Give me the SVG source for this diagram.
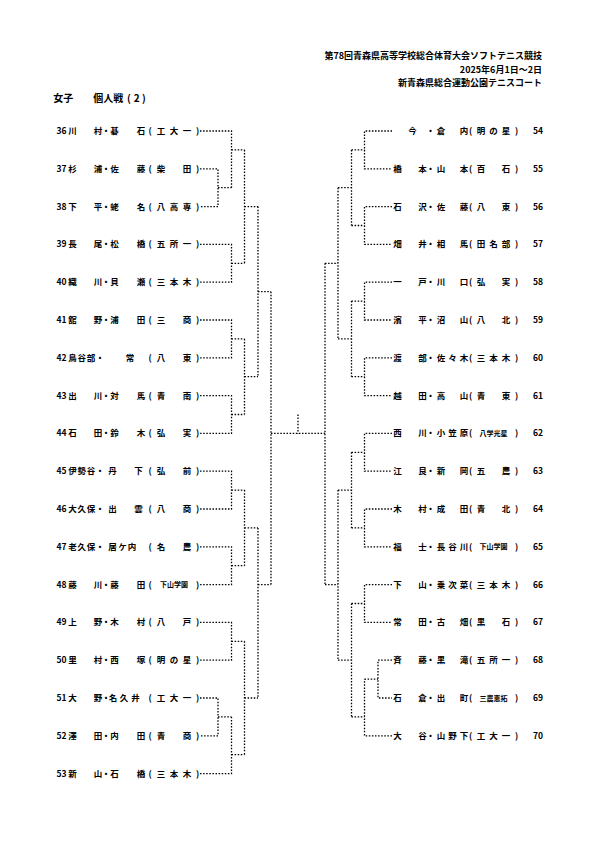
<svg xmlns="http://www.w3.org/2000/svg" width="595" height="842" viewBox="0 0 595 842">
<style>
text{font-family:"Noto Sans CJK JP","Noto Sans CJK SC",sans-serif;fill:#000}
.h{font-size:9px;font-weight:bold;text-anchor:end}
.ti{font-size:10px;font-weight:bold}
.tc{font-size:10px;font-weight:bold;text-anchor:middle}
.n{font-size:8.5px;font-weight:bold}
.c{font-size:8.5px;font-weight:bold;text-anchor:middle}
.s{font-size:7px}
.ln{fill:none;stroke:#000;stroke-width:1.3;stroke-dasharray:1.5 1.6}
</style>
<rect width="595" height="842" fill="#fff"/>
<g id="header">
<text class="h" x="542" y="58.5">第78回青森県高等学校総合体育大会ソフトテニス競技</text>
<text class="h" x="542" y="72.5">2025年6月1日～2日</text>
<text class="h" x="542" y="86">新青森県総合運動公園テニスコート</text>
</g>
<g id="title">
<text class="ti" x="53.3" y="102">女子</text>
<text class="ti" x="93.3" y="102">個人戦</text>
<text class="tc" x="129 136.7 144" y="102">(2)</text>
</g>
<g id="p36"><text class="n" x="56.5" y="134">36</text><text class="c" x="72.5 98 106 114.5 141 150 161 174 187 197.5" y="134">川村・碁石(工大一)</text></g>
<g id="p37"><text class="n" x="56.5" y="171.8">37</text><text class="c" x="72.5 98 106 114.5 141 150 161 187 197.5" y="171.8">杉浦・佐藤(柴田)</text></g>
<g id="p38"><text class="n" x="56.5" y="209.6">38</text><text class="c" x="72.5 98 106 114.5 141 150 161 174 187 197.5" y="209.6">下平・蛯名(八高専)</text></g>
<g id="p39"><text class="n" x="56.5" y="247.4">39</text><text class="c" x="72.5 98 106 114.5 141 150 161 174 187 197.5" y="247.4">長尾・松橋(五所一)</text></g>
<g id="p40"><text class="n" x="56.5" y="285.2">40</text><text class="c" x="72.5 98 106 114.5 141 150 161 174 187 197.5" y="285.2">織川・貝瀬(三本木)</text></g>
<g id="p41"><text class="n" x="56.5" y="323">41</text><text class="c" x="72.5 98 106 114.5 141 150 161 187 197.5" y="323">舘野・浦田(三商)</text></g>
<g id="p42"><text class="n" x="56.5" y="360.8">42</text><text class="c" x="72.5 81.8 91 100 130 150 161 187 197.5" y="360.8">鳥谷部・常(八東)</text></g>
<g id="p43"><text class="n" x="56.5" y="398.6">43</text><text class="c" x="72.5 98 106 114.5 141 150 161 187 197.5" y="398.6">出川・対馬(青南)</text></g>
<g id="p44"><text class="n" x="56.5" y="436.4">44</text><text class="c" x="72.5 98 106 114.5 141 150 161 187 197.5" y="436.4">石田・鈴木(弘実)</text></g>
<g id="p45"><text class="n" x="56.5" y="474.2">45</text><text class="c" x="72.5 81.8 91 100 112.5 138.5 150 161 187 197.5" y="474.2">伊勢谷・丹下(弘前)</text></g>
<g id="p46"><text class="n" x="56.5" y="512">46</text><text class="c" x="72.5 81.8 91 100 112.5 138.5 150 161 187 197.5" y="512">大久保・出雲(八商)</text></g>
<g id="p47"><text class="n" x="56.5" y="549.8">47</text><text class="c" x="72.5 81.8 91 100 112.5 122.5 132 150 161 187 197.5" y="549.8">老久保・居ケ内(名農)</text></g>
<g id="p48"><text class="n" x="56.5" y="587.6">48</text><text class="c" x="72.5 98 106 114.5 141 150" y="587.6">藤川・藤田(<tspan class="s" x="174" y="587.2">下山学園</tspan><tspan x="197.5" y="587.6">)</tspan></text></g>
<g id="p49"><text class="n" x="56.5" y="625.4">49</text><text class="c" x="72.5 98 106 114.5 141 150 161 187 197.5" y="625.4">上野・木村(八戸)</text></g>
<g id="p50"><text class="n" x="56.5" y="663.2">50</text><text class="c" x="72.5 98 106 114.5 141 150 161 174 187 197.5" y="663.2">里村・西塚(明の星)</text></g>
<g id="p51"><text class="n" x="56.5" y="701">51</text><text class="c" x="72.5 98 106 113 124 135.5 150 161 174 187 197.5" y="701">大野・名久井(工大一)</text></g>
<g id="p52"><text class="n" x="56.5" y="738.8">52</text><text class="c" x="72.5 98 106 114.5 141 150 161 187 197.5" y="738.8">澤田・内田(青商)</text></g>
<g id="p53"><text class="n" x="56.5" y="776.6">53</text><text class="c" x="72.5 98 106 114.5 141 150 161 174 187 197.5" y="776.6">新山・石橋(三本木)</text></g>
<g id="p54"><text class="c" x="412.5 430.5 441 464 470.5 481 493.5 506 516.5" y="134">今・倉内(明の星)</text><text class="n" x="533" y="134">54</text></g>
<g id="p55"><text class="c" x="397.5 422.5 430.5 441 464 470.5 481 506 516.5" y="171.8">橋本・山本(百石)</text><text class="n" x="533" y="171.8">55</text></g>
<g id="p56"><text class="c" x="397.5 422.5 430.5 441 464 470.5 481 506 516.5" y="209.6">石沢・佐藤(八東)</text><text class="n" x="533" y="209.6">56</text></g>
<g id="p57"><text class="c" x="397.5 422.5 430.5 441 464 470.5 481 493.5 506 516.5" y="247.4">畑井・相馬(田名部)</text><text class="n" x="533" y="247.4">57</text></g>
<g id="p58"><text class="c" x="397.5 422.5 430.5 441 464 470.5 481 506 516.5" y="285.2">一戸・川口(弘実)</text><text class="n" x="533" y="285.2">58</text></g>
<g id="p59"><text class="c" x="397.5 422.5 430.5 441 464 470.5 481 506 516.5" y="323">濱平・沼山(八北)</text><text class="n" x="533" y="323">59</text></g>
<g id="p60"><text class="c" x="397.5 422.5 430.5 441 452.5 464 470.5 481 493.5 506 516.5" y="360.8">渡部・佐々木(三本木)</text><text class="n" x="533" y="360.8">60</text></g>
<g id="p61"><text class="c" x="397.5 422.5 430.5 441 464 470.5 481 506 516.5" y="398.6">越田・高山(青東)</text><text class="n" x="533" y="398.6">61</text></g>
<g id="p62"><text class="c" x="397.5 422.5 430.5 441 452.5 464 470.5" y="436.4">西川・小笠原(<tspan class="s" x="493.5" y="436">八学光星</tspan><tspan x="516.5" y="436.4">)</tspan></text><text class="n" x="533" y="436.4">62</text></g>
<g id="p63"><text class="c" x="397.5 422.5 430.5 441 464 470.5 481 506 516.5" y="474.2">江良・新岡(五農)</text><text class="n" x="533" y="474.2">63</text></g>
<g id="p64"><text class="c" x="397.5 422.5 430.5 441 464 470.5 481 506 516.5" y="512">木村・成田(青北)</text><text class="n" x="533" y="512">64</text></g>
<g id="p65"><text class="c" x="397.5 422.5 430.5 441 452.5 464 470.5" y="549.8">福士・長谷川(<tspan class="s" x="493.5" y="549.4">下山学園</tspan><tspan x="516.5" y="549.8">)</tspan></text><text class="n" x="533" y="549.8">65</text></g>
<g id="p66"><text class="c" x="397.5 422.5 430.5 441 452.5 464 470.5 481 493.5 506 516.5" y="587.6">下山・乗次菜(三本木)</text><text class="n" x="533" y="587.6">66</text></g>
<g id="p67"><text class="c" x="397.5 422.5 430.5 441 464 470.5 481 506 516.5" y="625.4">常田・古畑(黒石)</text><text class="n" x="533" y="625.4">67</text></g>
<g id="p68"><text class="c" x="397.5 422.5 430.5 441 464 470.5 481 493.5 506 516.5" y="663.2">斉藤・黒滝(五所一)</text><text class="n" x="533" y="663.2">68</text></g>
<g id="p69"><text class="c" x="397.5 422.5 430.5 441 464 470.5" y="701">石倉・出町(<tspan class="s" x="493.5" y="700.6">三農恵拓</tspan><tspan x="516.5" y="701">)</tspan></text><text class="n" x="533" y="701">69</text></g>
<g id="p70"><text class="c" x="397.5 422.5 430.5 441 452.5 464 470.5 481 493.5 506 516.5" y="738.8">大谷・山野下(工大一)</text><text class="n" x="533" y="738.8">70</text></g>
<g id="connectors" class="ln">
<path d="M200 131H231.5V187.7M200 168.8H218V206.6H200M218 187.7H231.5M231.5 149.9H244.5"/>
<path d="M200 244.4H231.5V282.2H200M231.5 263.3H244.5M244.5 149.9V263.3M244.5 206.6H258"/>
<path d="M200 320H231.5V357.8H200M231.5 338.9H244.5M200 395.6H231.5V433.4H200M231.5 414.5H244.5M244.5 338.9V414.5M244.5 376.7H258"/>
<path d="M258 206.6V376.7M258 291.65H271"/>
<path d="M200 471.2H231.5V509H200M231.5 490.1H244.5M200 546.8H231.5V584.6H200M231.5 565.7H244.5M244.5 490.1V565.7M244.5 527.9H258"/>
<path d="M200 622.4H231.5V660.2H200M231.5 641.3H244.5M200 698H218V735.8H200M218 716.9H231.5M200 773.6H231.5V716.9M231.5 754.7H244.5M244.5 641.3V754.7M244.5 698H258"/>
<path d="M258 527.9V698M258 584.6H271M271 291.65V584.6"/>
<path d="M271 433.4H325M298 414.5V433.4"/>
<path d="M325 263.3V584.6M325 263.3H338M338 187.7V338.9M338 187.7H351.5M351.5 149.9V225.5M338 338.9H351.5M351.5 301.1V376.7"/>
<path d="M392 131H364.5V168.8H392M351.5 149.9H364.5M392 206.6H364.5V244.4H392M351.5 225.5H364.5"/>
<path d="M392 282.2H364.5V320H392M351.5 301.1H364.5M392 357.8H364.5V395.6H392M351.5 376.7H364.5"/>
<path d="M325 584.6H338M338 490.1V660.2M338 490.1H351.5M351.5 452.3V527.9M338 660.2H351.5M351.5 603.5V716.9"/>
<path d="M392 433.4H364.5V471.2H392M351.5 452.3H364.5M392 509H364.5V546.8H392M351.5 527.9H364.5"/>
<path d="M392 584.6H364.5V622.4H392M351.5 603.5H364.5M392 660.2H378V698H392M364.5 679.1H378M392 735.8H364.5V679.1M351.5 716.9H364.5"/>
</g>
</svg>
